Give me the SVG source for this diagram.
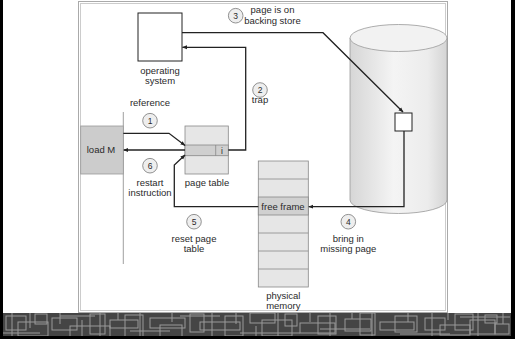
<svg xmlns="http://www.w3.org/2000/svg" width="515" height="339" viewBox="0 0 515 339">
<style>
  text { font-family: "Liberation Sans", Arial, sans-serif; font-size: 9.5px; fill: #2a2a2a; text-anchor: middle; }
  .num { font-size: 8.5px; }
  .step { fill: #eeeeee; stroke: #777; stroke-width: 0.8; }
  .conn { fill: none; stroke: #222; stroke-width: 1.3; }
  .box { stroke: #888; stroke-width: 0.8; }
  .band line, .band rect, .band path { fill: none; stroke: #9a9a9a; stroke-width: 1; }
  .band rect.bg { fill: #454545; stroke: none; }
</style>
<defs>
  <marker id="ah" viewBox="0 0 10 10" refX="9" refY="5" markerWidth="5" markerHeight="5" orient="auto-start-reverse" markerUnits="userSpaceOnUse">
    <path d="M0,1 L10,5 L0,9 z" fill="#222"/>
  </marker>
  <linearGradient id="cyl" x1="0" y1="0" x2="1" y2="0">
    <stop offset="0" stop-color="#d6d6d6"/>
    <stop offset="0.45" stop-color="#f4f4f4"/>
    <stop offset="0.8" stop-color="#ececec"/>
    <stop offset="1" stop-color="#d4d4d4"/>
  </linearGradient>
  <clipPath id="bandclip"><rect x="3" y="313" width="508" height="23"/></clipPath>
</defs>

<!-- background and frame -->
<rect x="0" y="0" width="515" height="339" fill="#ffffff"/>
<rect x="0" y="0" width="3" height="339" fill="#000"/>
<rect x="511" y="0" width="4" height="339" fill="#000"/>
<rect x="0" y="336" width="515" height="3" fill="#000"/>
<g class="band">
  <rect class="bg" x="3" y="313" width="508" height="23"/>
  <g clip-path="url(#bandclip)">
    <rect x="6" y="316" width="20" height="14"/><rect x="18" y="322" width="30" height="14"/>
    <rect x="35" y="314" width="12" height="10"/><rect x="52" y="318" width="25" height="12"/>
    <rect x="70" y="326" width="40" height="12"/><rect x="90" y="314" width="15" height="20"/>
    <rect x="110" y="320" width="28" height="8"/><rect x="125" y="315" width="18" height="22"/>
    <rect x="150" y="318" width="35" height="10"/><rect x="160" y="325" width="22" height="12"/>
    <rect x="190" y="314" width="14" height="18"/><rect x="200" y="322" width="40" height="8"/>
    <rect x="225" y="316" width="18" height="20"/><rect x="250" y="313" width="25" height="10"/>
    <rect x="262" y="320" width="30" height="16"/><rect x="285" y="314" width="12" height="12"/>
    <rect x="300" y="323" width="35" height="10"/><rect x="318" y="316" width="18" height="18"/>
    <rect x="345" y="319" width="26" height="12"/><rect x="360" y="313" width="15" height="22"/>
    <rect x="380" y="322" width="34" height="8"/><rect x="395" y="316" width="22" height="16"/>
    <rect x="425" y="318" width="20" height="12"/><rect x="440" y="325" width="30" height="10"/>
    <rect x="455" y="314" width="18" height="16"/><rect x="470" y="320" width="25" height="14"/>
    <rect x="485" y="315" width="12" height="8"/><rect x="495" y="324" width="14" height="10"/>
    <path d="M12,313 V336 M30,313 V328 M60,313 V324 M82,320 V336 M100,313 V336 M118,313 V320 M140,313 V336 M172,313 V322 M212,313 V336 M236,313 V324 M256,326 V336 M278,313 V336 M310,313 V322 M330,313 V336 M352,313 V319 M372,313 V336 M408,313 V322 M432,313 V336 M448,313 V320 M478,313 V336 M503,313 V324"/>
    <path d="M3,333 H40 M60,316 H95 M130,331 H170 M180,316 H220 M240,333 H300 M320,329 H370 M400,334 H450 M460,317 H510"/>
  </g>
</g>

<!-- panel -->
<rect x="78.5" y="1.5" width="369" height="311" fill="#fff" stroke="#aaa" stroke-width="1"/>
<rect x="80.5" y="3.5" width="365" height="307" fill="none" stroke="#ccc" stroke-width="1"/>

<!-- backing store cylinder -->
<g id="backing-store">
  <path d="M350,38 V200 A48.5,13.5 0 0 0 447,200 V38 Z" fill="url(#cyl)" stroke="#999" stroke-width="0.8"/>
  <ellipse cx="398.5" cy="38" rx="48.5" ry="13.5" fill="#f2f2f2" stroke="#999" stroke-width="0.8"/>
  <rect x="395" y="113" width="17" height="18" fill="#fff" stroke="#222" stroke-width="1"/>
</g>

<!-- operating system -->
<g id="operating-system">
  <rect x="138" y="13" width="44" height="48" fill="#fff" stroke="#222" stroke-width="1"/>
  <text x="160" y="74">operating</text>
  <text x="160" y="84">system</text>
</g>

<!-- load M -->
<g id="load-m">
  <line x1="123.3" y1="112" x2="123.3" y2="264" stroke="#888" stroke-width="0.8"/>
  <rect x="80.7" y="126" width="42.6" height="48" fill="#cccccc" stroke="#999" stroke-width="0.8"/>
  <text x="101" y="153">load M</text>
</g>

<!-- page table -->
<g id="page-table">
  <rect x="185" y="126" width="43.3" height="48" fill="#e6e6e6" class="box"/>
  <rect x="185" y="145" width="43.3" height="10.7" fill="#cfcfcf" class="box"/>
  <line x1="215.7" y1="145" x2="215.7" y2="155.7" class="box"/>
  <text x="222" y="153.5" style="font-size:8.5px">i</text>
  <text x="207" y="186">page table</text>
</g>

<!-- physical memory -->
<g id="physical-memory">
  <rect x="258.3" y="161" width="50" height="126" fill="#e6e6e6" class="box"/>
  <rect x="258.3" y="197" width="50" height="18" fill="#d0d0d0" class="box"/>
  <line x1="258.3" y1="179" x2="308.3" y2="179" class="box"/>
  <line x1="258.3" y1="233" x2="308.3" y2="233" class="box"/>
  <line x1="258.3" y1="251" x2="308.3" y2="251" class="box"/>
  <line x1="258.3" y1="269" x2="308.3" y2="269" class="box"/>
  <text x="283" y="209.5">free frame</text>
  <text x="283.3" y="298.5">physical</text>
  <text x="283.3" y="309">memory</text>
</g>

<!-- connectors -->
<g id="connectors">
  <path class="conn" d="M182,32.7 H323 L403,112" marker-end="url(#ah)"/>
  <path class="conn" d="M228.3,150 H245.7 V47.3 H182.5" marker-end="url(#ah)"/>
  <path class="conn" d="M123.3,133.3 H169 L185,145.5" marker-end="url(#ah)"/>
  <path class="conn" d="M185,150 H123.8" marker-end="url(#ah)"/>
  <path class="conn" d="M404,131 V206.7 H308.8" marker-end="url(#ah)"/>
  <path class="conn" d="M258.3,206.7 H174.3 V165 L185,155" marker-end="url(#ah)"/>
</g>

<!-- step labels -->
<g id="step1">
  <text x="150" y="106">reference</text>
  <circle class="step" cx="150" cy="120.7" r="7.3"/>
  <text class="num" x="150" y="123.7">1</text>
</g>
<g id="step2">
  <circle class="step" cx="260" cy="90" r="7.3"/>
  <text class="num" x="260" y="93">2</text>
  <text x="260" y="103">trap</text>
</g>
<g id="step3">
  <circle class="step" cx="235.7" cy="15.7" r="7.3"/>
  <text class="num" x="235.7" y="18.7">3</text>
  <text x="272.5" y="13">page is on</text>
  <text x="272.5" y="24">backing store</text>
</g>
<g id="step4">
  <circle class="step" cx="348.3" cy="221.7" r="7.3"/>
  <text class="num" x="348.3" y="224.7">4</text>
  <text x="348.3" y="241.5">bring in</text>
  <text x="348.3" y="251.5">missing page</text>
</g>
<g id="step5">
  <circle class="step" cx="194" cy="221.7" r="7.3"/>
  <text class="num" x="194" y="224.7">5</text>
  <text x="194" y="241.5">reset page</text>
  <text x="194" y="251.5">table</text>
</g>
<g id="step6">
  <circle class="step" cx="150" cy="165.7" r="7.3"/>
  <text class="num" x="150" y="168.7">6</text>
  <text x="150" y="185.5">restart</text>
  <text x="150" y="195.5">instruction</text>
</g>
</svg>
